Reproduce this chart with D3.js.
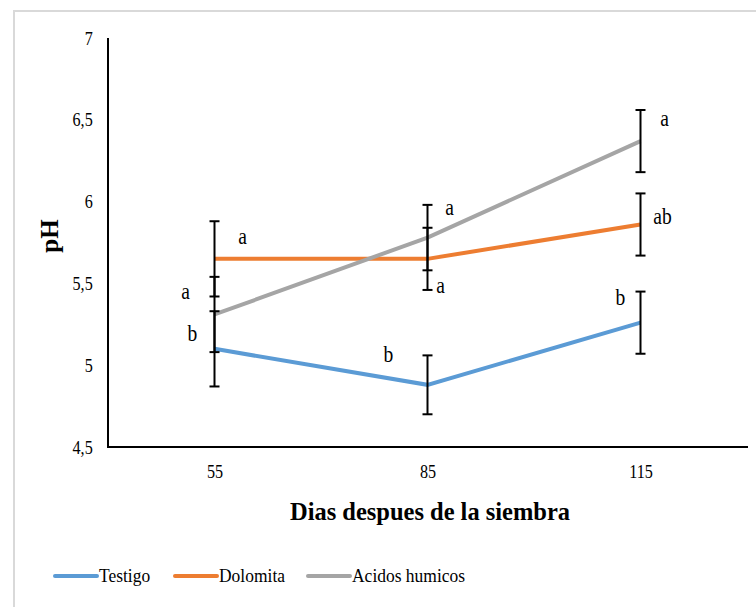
<!DOCTYPE html>
<html>
<head>
<meta charset="utf-8">
<script src="https://cdn.jsdelivr.net/npm/d3@7"></script>
<style>
  body { margin: 0; background: #fff; }
  svg text { font-family: "Liberation Serif", "DejaVu Serif", serif !important; fill: #000; }
</style>
</head>
<body>
<script>
// data
const days = ["55", "85", "115"];
const seriesNames = ["Testigo", "Dolomita", "Acidos humicos"];
const testigo = [5.10, 4.88, 5.26];
const dolomita = [5.65, 5.65, 5.86];
const acidos = [5.31, 5.78, 6.37];
const testigoErr = [0.23, 0.18, 0.19];
const dolomitaErr = [0.23, 0.19, 0.19];
const acidosErr = [0.23, 0.20, 0.19];
const testigoLetters = ["b", "b", "b"];
const dolomitaLetters = ["a", "a", "ab"];
const acidosLetters = ["a", "a", "a"];
const yTicks = [4.5, 5, 5.5, 6, 6.5, 7];

const w = 756, h = 607;
const colors = ["#5b9bd5", "#ed7d31", "#a5a5a5"];
const squeeze = 0.85;

const svg = d3.select("body").append("svg")
    .attr("width", w)
    .attr("height", h);

// outer frame (only top and left visible)
svg.append("path")
    .attr("d", "M14,607 L14,11 L756,11")
    .attr("fill", "none")
    .attr("stroke", "#d9d9d9")
    .attr("stroke-width", 2);

const xScale = d3.scalePoint()
    .domain(days)
    .range([108, 747])
    .padding(0.5);
const yScale = d3.scaleLinear()
    .domain([4.5, 7])
    .range([447, 38]);

// axes
svg.append("g")
    .attr("transform", "translate(0,447)")
    .call(d3.axisBottom(xScale).tickSize(0).tickPadding(18))
    .call(g => g.select(".domain").attr("d", "M108,0H748").attr("stroke", "#000").attr("stroke-width", 2))
    .call(g => g.selectAll("text").attr("font-size", 19)
        .attr("transform", `scale(${squeeze},1)`));

svg.append("g")
    .attr("transform", "translate(108,0)")
    .call(d3.axisLeft(yScale).tickValues(yTicks).tickSize(0).tickPadding(18)
        .tickFormat(d => String(d).replace(".", ",")))
    .call(g => g.select(".domain").attr("d", "M0,38V448").attr("stroke", "#000").attr("stroke-width", 2))
    .call(g => g.selectAll("text").attr("font-size", 19)
        .attr("transform", `scale(${squeeze},1)`));

const series = [
    { name: seriesNames[0], values: testigo, err: testigoErr, letters: testigoLetters, color: colors[0] },
    { name: seriesNames[1], values: dolomita, err: dolomitaErr, letters: dolomitaLetters, color: colors[1] },
    { name: seriesNames[2], values: acidos, err: acidosErr, letters: acidosLetters, color: colors[2] }
];

const line = d3.line()
    .x((d, i) => xScale(days[i]))
    .y(d => yScale(d));

series.forEach(s => {
    svg.append("path")
        .attr("d", line(s.values))
        .attr("fill", "none")
        .attr("stroke", s.color)
        .attr("stroke-width", 4);
});

// error bars
series.forEach(s => {
    const g = svg.append("g").attr("stroke", "#000").attr("stroke-width", 2);
    s.values.forEach((v, i) => {
        const x = xScale(days[i]);
        const y1 = yScale(v + s.err[i]);
        const y2 = yScale(v - s.err[i]);
        g.append("line").attr("x1", x).attr("x2", x).attr("y1", y1).attr("y2", y2);
        g.append("line").attr("x1", x - 5).attr("x2", x + 5).attr("y1", y1).attr("y2", y1);
        g.append("line").attr("x1", x - 5).attr("x2", x + 5).attr("y1", y2).attr("y2", y2);
    });
});

// significance letters (offsets from the point)
const letterPos = [
    [[-22, -8], [-39, -23], [-20, -18]],
    [[28, -15], [13, 34], [22, -1]],
    [[-29, -15], [22, -23], [24, -15]]
];
series.forEach((s, si) => {
    s.letters.forEach((l, i) => {
        const x = xScale(days[i]) + letterPos[si][i][0];
        const y = yScale(s.values[i]) + letterPos[si][i][1];
        svg.append("text")
            .attr("transform", `translate(${x},${y}) scale(${squeeze},1)`)
            .attr("text-anchor", "middle")
            .attr("font-size", 23)
            .text(l);
    });
});

// axis titles
svg.append("text")
    .attr("x", 430)
    .attr("y", 520)
    .attr("text-anchor", "middle")
    .attr("font-size", 26)
    .attr("font-weight", "bold")
    .attr("textLength", 280)
    .attr("lengthAdjust", "spacingAndGlyphs")
    .text("Dias despues de la siembra");

svg.append("text")
    .attr("transform", "translate(58,236) rotate(-90)")
    .attr("text-anchor", "middle")
    .attr("font-size", 25)
    .attr("font-weight", "bold")
    .text("pH");

// legend
const legendX = [55, 175, 308];
const legend = svg.append("g");
series.forEach((s, i) => {
    legend.append("line")
        .attr("x1", legendX[i]).attr("x2", legendX[i] + 42)
        .attr("y1", 576).attr("y2", 576)
        .attr("stroke", s.color)
        .attr("stroke-width", 4)
        .attr("stroke-linecap", "round");
    legend.append("text")
        .attr("transform", `translate(${legendX[i] + 44},582) scale(0.92,1)`)
        .attr("font-size", 19)
        .text(s.name);
});
</script>
</body>
</html>
